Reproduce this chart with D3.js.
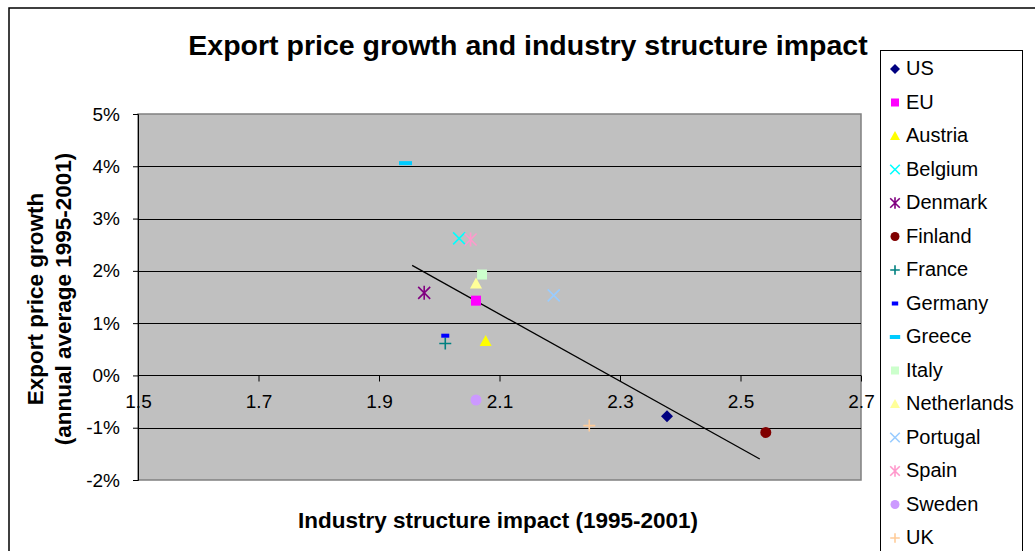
<!DOCTYPE html>
<html><head><meta charset="utf-8">
<script src="https://cdn.jsdelivr.net/npm/d3@7"></script>
<style>
body{margin:0;background:#fff;}
svg{display:block;font-family:"Liberation Sans",Arial,sans-serif;}
</style></head>
<body><svg id="c" width="1035" height="551"></svg>
<script>
const countries = ["US","EU","Austria","Belgium","Denmark","Finland","France","Germany","Greece","Italy","Netherlands","Portugal","Spain","Sweden","UK"];
const industryImpact = [2.378,2.061,2.077,2.033,1.975,2.542,2.010,2.010,1.944,2.071,2.061,2.190,2.052,2.061,2.249];
const exportGrowth = [-0.0078,0.0143,0.0066,0.0262,0.0158,-0.0109,0.0061,0.0076,0.0406,0.0193,0.0176,0.0153,0.0260,-0.0047,-0.0096];
const markerShapes = ["diamond","square","triangle","x","star","circle","plus","dashS","dashL","square","triangle","x","star","circle","plus"];
const markerColors = ["#000080","#FF00FF","#FFFF00","#00FFFF","#800080","#800000","#008080","#0000FF","#00CCFF","#CCFFCC","#FFFF99","#99CCFF","#FF99CC","#CC99FF","#FFCC99"];
const xTicks = [1.5,1.7,1.9,2.1,2.3,2.5,2.7];
const yTicks = [-0.02,-0.01,0,0.01,0.02,0.03,0.04,0.05];
const trendRange = [1.955,2.532];

const svg = d3.select("#c");
const W=1035,H=551;
const L=138,R=861,T=114,B=480;
const x = d3.scaleLinear().domain([1.5,2.7]).range([L,R]);
const y = d3.scaleLinear().domain([-0.02,0.05]).range([B,T]);

// outer border
svg.append("rect").attr("x",9).attr("y",8).attr("width",W+20).attr("height",H+20)
  .attr("fill","#fff").attr("stroke","#000").attr("stroke-width",1.5);

// title
svg.append("text").attr("x",528).attr("y",55).attr("text-anchor","middle")
  .attr("font-size",28.5).attr("font-weight","bold").text("Export price growth and industry structure impact");

// plot area
svg.append("rect").attr("x",L).attr("y",T).attr("width",R-L).attr("height",B-T)
  .attr("fill","#C0C0C0").attr("stroke","#808080").attr("stroke-width",1.5);

// gridlines
svg.append("g").selectAll("line").data(yTicks.filter(v=>v>-0.02&&v<0.05&&v!==0)).join("line")
  .attr("x1",L).attr("x2",R).attr("y1",d=>Math.round(y(d))+0.5).attr("y2",d=>Math.round(y(d))+0.5)
  .attr("stroke","#000").attr("stroke-width",1);

const pct = d => Math.round(d*100) + "%";

// y axis
const ya = svg.append("g").attr("transform",`translate(${L},0)`)
  .call(d3.axisLeft(y).tickValues(yTicks).tickFormat(pct).tickSize(5).tickPadding(13));
ya.select(".domain").attr("stroke","#000");
ya.selectAll("text").attr("font-size",19).attr("font-family","Liberation Sans, Arial").attr("fill","#000");

// x axis at 0
const xa = svg.append("g").attr("transform",`translate(0,${Math.round(y(0))+0.5})`)
  .call(d3.axisBottom(x).tickValues(xTicks).tickFormat(d3.format(".1f")).tickSize(6).tickPadding(13));
xa.select(".domain").attr("stroke","#000").attr("d",`M${L},0H${R}`);
xa.selectAll("text").attr("font-size",19).attr("font-family","Liberation Sans, Arial").attr("fill","#000");

// axis titles
svg.append("text").attr("x",498).attr("y",528).attr("text-anchor","middle")
  .attr("font-size",22.5).attr("font-weight","bold").text("Industry structure impact (1995-2001)");
const yt = svg.append("text").attr("transform","translate(0,299) rotate(-90)").attr("text-anchor","middle")
  .attr("font-size",22.5).attr("font-weight","bold");
yt.append("tspan").attr("x",0).attr("y",43).text("Export price growth");
yt.append("tspan").attr("x",0).attr("y",71).text("(annual average 1995-2001)");

// trendline (least squares)
const mx=d3.mean(industryImpact), my=d3.mean(exportGrowth);
let sxy=0,sxx=0;
industryImpact.forEach((v,i)=>{sxy+=(v-mx)*(exportGrowth[i]-my);sxx+=(v-mx)*(v-mx);});
const slope=sxy/sxx, icpt=my-slope*mx;
svg.append("line").attr("x1",x(trendRange[0])).attr("y1",y(icpt+slope*trendRange[0]))
  .attr("x2",x(trendRange[1])).attr("y2",y(icpt+slope*trendRange[1]))
  .attr("stroke","#000").attr("stroke-width",1.3);

// marker drawing
function drawMarker(g, shape, color, s){
  const h=s/2, k=h*1.2;
  if(shape==="diamond"){
    g.append("path").attr("d",`M0,${-h-1}L${h+1},0L0,${h+1}L${-h-1},0Z`).attr("fill",color);
  } else if(shape==="square"){
    g.append("rect").attr("x",-h).attr("y",-h).attr("width",s).attr("height",s).attr("fill",color);
  } else if(shape==="triangle"){
    g.append("path").attr("d",`M0,${-h-1}L${h+1},${h}L${-h-1},${h}Z`).attr("fill",color);
  } else if(shape==="circle"){
    g.append("circle").attr("r",h+0.5).attr("fill",color);
  } else if(shape==="x"){
    g.append("path").attr("d",`M${-k},${-k}L${k},${k}M${k},${-k}L${-k},${k}`).attr("stroke",color).attr("stroke-width",1.6).attr("fill","none");
  } else if(shape==="star"){
    g.append("path").attr("d",`M${-k},${-k}L${k},${k}M${k},${-k}L${-k},${k}M0,${-k-1}L0,${k+1}`).attr("stroke",color).attr("stroke-width",1.6).attr("fill","none");
  } else if(shape==="plus"){
    g.append("path").attr("d",`M${-k},0L${k},0M0,${-k}L0,${k}`).attr("stroke",color).attr("stroke-width",1.6).attr("fill","none");
  } else if(shape==="dashS"){
    g.append("rect").attr("x",-h*0.8).attr("y",-2).attr("width",s*0.8).attr("height",4).attr("fill",color);
  } else if(shape==="dashL"){
    g.append("rect").attr("x",-h*1.3).attr("y",-2).attr("width",s*1.3).attr("height",4).attr("fill",color);
  }
}

// points
const pts = svg.append("g");
countries.forEach((c,i)=>{
  const g = pts.append("g").attr("transform",`translate(${x(industryImpact[i])},${y(exportGrowth[i])})`);
  drawMarker(g, markerShapes[i], markerColors[i], 10);
});

// legend
const lg = svg.append("g");
lg.append("rect").attr("x",880.5).attr("y",50.5).attr("width",142).attr("height",520)
  .attr("fill","#fff").attr("stroke","#000").attr("stroke-width",1);
const ly = d3.scaleLinear().domain([0,countries.length-1]).range([68,537]);
countries.forEach((c,i)=>{
  const g = lg.append("g").attr("transform",`translate(895,${ly(i)+1})`);
  drawMarker(g, markerShapes[i], markerColors[i], 8);
  lg.append("text").attr("x",906).attr("y",ly(i)+7).attr("font-size",20).text(c);
});
</script></body></html>
